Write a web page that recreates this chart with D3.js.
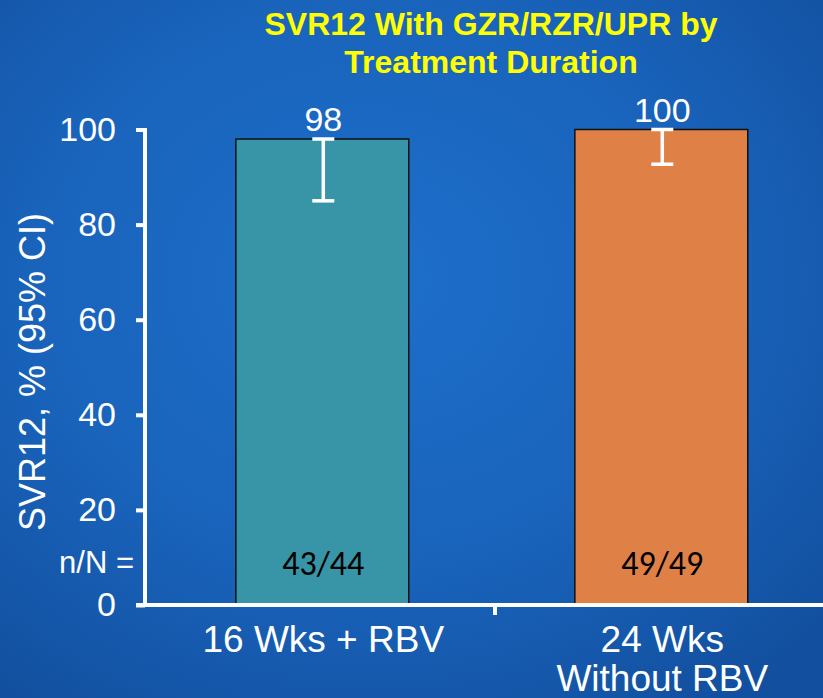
<!DOCTYPE html>
<html>
<head>
<meta charset="utf-8">
<script src="https://cdn.jsdelivr.net/npm/d3@7"></script>
<style>
  html, body { margin: 0; padding: 0; background: #1a62b8; }
  svg { display: block; }
</style>
</head>
<body>
<svg id="chart" width="823" height="698"></svg>
<script>
// SVR12 by treatment duration
const categories = ["16 Wks + RBV", "24 Wks\nWithout RBV"];
const svrValues = [98, 100];
const ciLower = [85, 92.7];
const ciUpper = [98, 100];
const nOverN = ["43/44", "49/49"];
const barColors = ["#3795a7", "#df8147"];
const yTicks = [0, 20, 40, 60, 80, 100];
const titleLines = ["SVR12 With GZR/RZR/UPR by", "Treatment Duration"];

const svg = d3.select("#chart");
const W = 823, H = 698;

// Background: blue gradient
const defs = svg.append("defs");
const bg = defs.append("radialGradient").attr("id", "bg")
  .attr("cx", "45%").attr("cy", "40%").attr("r", "75%");
bg.append("stop").attr("offset", "0%").attr("stop-color", "#1d6fcb");
bg.append("stop").attr("offset", "55%").attr("stop-color", "#1963bb");
bg.append("stop").attr("offset", "100%").attr("stop-color", "#124f9e");
svg.append("rect").attr("width", W).attr("height", H).attr("fill", "url(#bg)");

const font = "'Liberation Sans', Arial, sans-serif";

const x0 = 145, xEnd = 823;
const y = d3.scaleLinear().domain([0, 100]).range([605, 129.5]);
const x = d3.scaleBand().domain(categories).range([x0, 838.6]).paddingInner(0.49).paddingOuter(0.268);

// Title
svg.append("text")
  .attr("text-anchor", "middle")
  .attr("font-family", font).attr("font-weight", "bold")
  .attr("font-size", 32).attr("fill", "#ffff00")
  .selectAll("tspan").data(titleLines).join("tspan")
  .attr("x", 491).attr("y", (d, i) => 35 + i * 38)
  .text(d => d);

// Bars
svg.selectAll("rect.bar").data(categories).join("rect")
  .attr("class", "bar")
  .attr("x", d => x(d))
  .attr("width", x.bandwidth())
  .attr("y", (d, i) => y(svrValues[i]))
  .attr("height", (d, i) => y(0) - y(svrValues[i]))
  .attr("fill", (d, i) => barColors[i])
  .attr("stroke", "#111").attr("stroke-width", 1.5);

// Error bars
const cx = d => x(d) + x.bandwidth() / 2 + 1;
const eb = svg.selectAll("g.err").data(categories).join("g").attr("class", "err")
  .attr("stroke", "#fff").attr("stroke-width", 3.5);
eb.append("line").attr("x1", cx).attr("x2", cx)
  .attr("y1", (d, i) => y(ciUpper[i])).attr("y2", (d, i) => y(ciLower[i]));
eb.append("line").attr("x1", d => cx(d) - 11).attr("x2", d => cx(d) + 11)
  .attr("y1", (d, i) => y(ciUpper[i])).attr("y2", (d, i) => y(ciUpper[i]));
eb.append("line").attr("x1", d => cx(d) - 11).attr("x2", d => cx(d) + 11)
  .attr("y1", (d, i) => y(ciLower[i])).attr("y2", (d, i) => y(ciLower[i]));

// Value labels
svg.selectAll("text.val").data(categories).join("text")
  .attr("class", "val")
  .attr("x", cx)
  .attr("y", (d, i) => y(ciUpper[i]) - 8)
  .attr("text-anchor", "middle")
  .attr("font-family", font).attr("font-size", 34).attr("fill", "#fff")
  .text((d, i) => svrValues[i]);

// n/N labels
svg.selectAll("text.nn").data(categories).join("text")
  .attr("class", "nn")
  .attr("x", cx).attr("y", 575)
  .attr("text-anchor", "middle")
  .attr("font-family", "Carlito, Lato, 'Open Sans', sans-serif").attr("font-size", 34).attr("fill", "#000")
  .text((d, i) => nOverN[i]);
svg.append("text")
  .attr("x", 134).attr("y", 573)
  .attr("text-anchor", "end")
  .attr("font-family", font).attr("font-size", 31).attr("fill", "#fff")
  .text("n/N =");

// Y axis
const yAxis = d3.axisLeft(y).tickValues(yTicks).tickSize(9).tickPadding(20);
const gy = svg.append("g").attr("transform", `translate(${x0},0)`).call(yAxis);
gy.select(".domain").attr("stroke", "#fff").attr("stroke-width", 4)
  .attr("d", `M0,${y(100) - 1.5}V${y(0) + 1.5}`);
gy.selectAll(".tick line").attr("stroke", "#fff").attr("stroke-width", 4);
gy.selectAll(".tick text").attr("fill", "#fff")
  .attr("font-family", font).attr("font-size", 34);

// X axis
svg.append("line").attr("x1", x0 - 9).attr("x2", xEnd)
  .attr("y1", y(0)).attr("y2", y(0))
  .attr("stroke", "#fff").attr("stroke-width", 4);
svg.append("line").attr("x1", 495).attr("x2", 495)
  .attr("y1", y(0)).attr("y2", y(0) + 10)
  .attr("stroke", "#fff").attr("stroke-width", 4);

// Category labels
svg.selectAll("text.cat").data(categories).join("text")
  .attr("class", "cat")
  .attr("text-anchor", "middle")
  .attr("font-family", font).attr("font-size", 37).attr("fill", "#fff")
  .each(function (d) {
    const lines = d.split("\n");
    d3.select(this).selectAll("tspan").data(lines).join("tspan")
      .attr("x", cx(d)).attr("y", (l, i) => 652 + i * 39).text(l => l);
  });

// Y axis title
svg.append("text")
  .attr("transform", "translate(45,372) rotate(-90)")
  .attr("text-anchor", "middle")
  .attr("font-family", font).attr("font-size", 36).attr("fill", "#fff")
  .text("SVR12, % (95% CI)");
</script>
</body>
</html>
